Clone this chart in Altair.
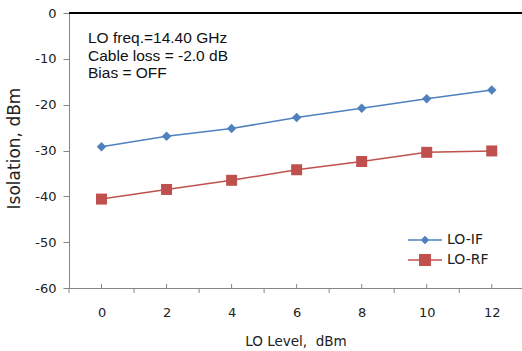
import altair as alt
import pandas as pd

# ---- data ----
lo_level = [0, 2, 4, 6, 8, 10, 12]
lo_if = [-29.2, -26.9, -25.2, -22.8, -20.8, -18.7, -16.8]
lo_rf = [-40.6, -38.5, -36.5, -34.2, -32.4, -30.4, -30.1]
series_names = ["LO-IF", "LO-RF"]
series_colors = ["#4F81BD", "#C0504D"]
y_ticks = [0, -10, -20, -30, -40, -50, -60]
annotation_lines = ["LO freq.=14.40 GHz", "Cable loss = -2.0 dB", "Bias = OFF"]

df = pd.DataFrame({
    "level": lo_level * 2,
    "value": lo_if + lo_rf,
    "series": [series_names[0]] * len(lo_level) + [series_names[1]] * len(lo_level),
})
# category boundaries (Excel-style ticks between categories) and centres
bounds = pd.DataFrame({"b": [c - 1 for c in lo_level] + [lo_level[-1] + 1]})
centres = pd.DataFrame({"c": lo_level})

W, H = 453, 275
GRAY = "#868686"
FONT = "DejaVu Sans"

xscale = alt.Scale(domain=[-1, 12.93], nice=False, zero=False)
yscale = alt.Scale(domain=[-60, 0], nice=False, zero=False)
cscale = alt.Scale(domain=series_names, range=series_colors)

x_axis = alt.Axis(values=lo_level, tickSize=0, grid=False, domainColor=GRAY,
                  labelFont=FONT, labelFontSize=13, labelColor="#222222",
                  labelPadding=24, labelBaseline="middle",
                  title="LO Level,\u00a0 dBm", titleFont=FONT, titleFontSize=13.5,
                  titleFontWeight="normal", titleColor="#222222",
                  titleY=53, titleBaseline="middle")
y_axis = alt.Axis(values=y_ticks, tickSize=6, tickColor=GRAY, domainColor=GRAY,
                  grid=False, labelFont=FONT, labelFontSize=13, labelColor="#222222",
                  labelPadding=7, labelExpr="toString(datum.value)",
                  title="Isolation, dBm", titleFont=FONT, titleFontSize=17,
                  titleFontWeight="normal", titleColor="#222222",
                  titleAngle=270, titleX=-55, titleY=135,
                  titleAlign="center", titleBaseline="middle")

base = alt.Chart(df)

lines = base.mark_line(strokeWidth=1.5).encode(
    x=alt.X("level:Q", scale=xscale, axis=x_axis),
    y=alt.Y("value:Q", scale=yscale, axis=y_axis),
    color=alt.Color("series:N", scale=cscale, legend=None),
)

points = base.mark_point(filled=True, opacity=1).encode(
    x=alt.X("level:Q", scale=xscale),
    y=alt.Y("value:Q", scale=yscale),
    color=alt.Color("series:N", scale=cscale, legend=None),
    shape=alt.Shape("series:N", scale=alt.Scale(domain=series_names, range=["diamond", "square"]), legend=None),
    size=alt.Size("series:N", scale=alt.Scale(domain=series_names, range=[90, 121]), legend=None),
)

top_line = alt.Chart(centres).mark_rule(color="#000000", strokeWidth=1).encode(
    y=alt.datum(0, scale=yscale)
)

outer_ticks = alt.Chart(bounds).mark_rule(color=GRAY, strokeWidth=1).encode(
    x=alt.X("b:Q", scale=xscale),
    y=alt.value(H), y2=alt.value(H + 5),
)
inner_ticks = alt.Chart(centres).mark_rule(color=GRAY, strokeWidth=1).encode(
    x=alt.X("c:Q", scale=xscale),
    y=alt.value(H - 4), y2=alt.value(H),
)

note = alt.Chart(centres.head(1)).mark_text(
    text=annotation_lines, align="left", baseline="alphabetic",
    font="Liberation Sans", fontSize=15.5, lineHeight=17.5, color="#111111"
).encode(x=alt.value(19), y=alt.value(30))

# legend symbols: a thin bar (the line) plus the marker, all filled
legend_paths = [
    "M-1,-0.045L1,-0.045L1,0.045L-1,0.045ZM0,-0.25L0.25,0L0,0.25L-0.25,0Z",
    "M-1,-0.045L1,-0.045L1,0.045L-1,0.045ZM-0.35,-0.35L0.35,-0.35L0.35,0.35L-0.35,0.35Z",
]
legend_y = [210, 230]
fields = ["sa", "sb"]
legend_layers = []
for i, name in enumerate(series_names):
    ldf = pd.DataFrame({fields[i]: [name]})
    leg = alt.Legend(orient="none", legendX=339, legendY=legend_y[i], title=None,
                     labelFont=FONT, labelFontSize=14, labelColor="#222222",
                     labelOffset=5, symbolSize=1156, symbolStrokeWidth=0,
                     symbolFillColor=series_colors[i], symbolStrokeColor=series_colors[i],
                     symbolOpacity=1, padding=0)
    legend_layers.append(
        alt.Chart(ldf).mark_point(filled=True, opacity=0, size=1156, strokeWidth=0,
                                  fill=series_colors[i]).encode(
            shape=alt.Shape(f"{fields[i]}:N",
                            scale=alt.Scale(domain=[name], range=[legend_paths[i]]),
                            legend=leg)
        )
    )

chart = alt.layer(top_line, lines, points, outer_ticks, inner_ticks, note, *legend_layers).resolve_scale(
    color="independent", shape="independent", size="independent"
).properties(
    width=W, height=H,
    padding={"left": 69, "top": 13, "right": 0, "bottom": 63},
    autosize=alt.AutoSizeParams(type="none"),
).configure_view(stroke=None).configure(background="white")

chart.save("out.html", embed_options={"renderer": "svg", "actions": False})
